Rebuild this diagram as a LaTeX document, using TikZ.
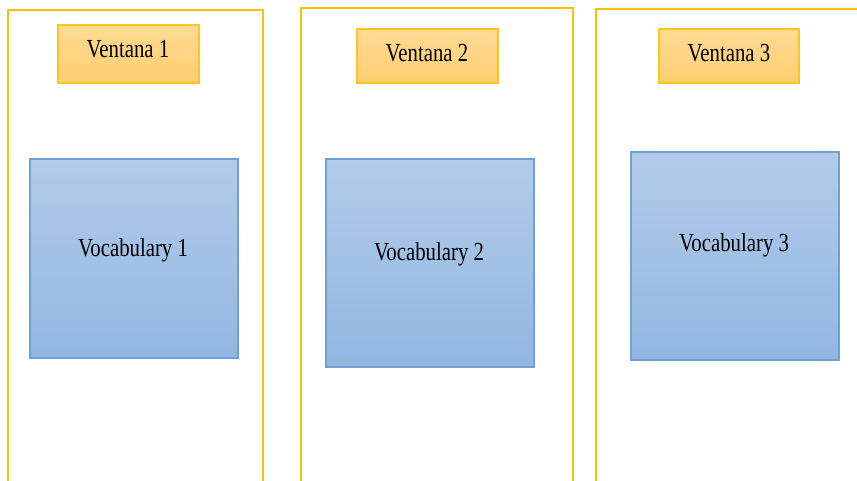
\documentclass[tikz,border=0pt]{standalone}
\usepackage{graphicx}
\usepackage{fontspec}
\setmainfont{Liberation Serif}
\usetikzlibrary{calc}

\definecolor{framegold}{RGB}{255,192,0}
\definecolor{ventop}{RGB}{255,218,148}
\definecolor{venbot}{RGB}{255,206,112}
\definecolor{venline}{RGB}{255,196,30}
\definecolor{voctop}{RGB}{178,203,233}
\definecolor{vocbot}{RGB}{145,183,226}
\definecolor{vocline}{RGB}{112,160,215}

\newcommand{\narrowtxt}[1]{\scalebox{0.8}[1]{#1}}

\tikzset{
  frameline/.style={draw=framegold, line width=1.5pt},
  ventanabox/.style={draw=venline, line width=1.3pt, top color=ventop, bottom color=venbot, inner sep=0pt},
  vocabbox/.style={draw=vocline, line width=1pt, top color=voctop, bottom color=vocbot, inner sep=0pt},
  boxtext/.style={anchor=base, inner sep=0pt, font=\fontsize{19.5}{22}\selectfont}
}

\begin{document}
\begin{tikzpicture}[x=0.75pt,y=0.75pt,yscale=-1,xscale=1]
\useasboundingbox (0,0) rectangle (857,481);

%Shape: Frame [open at the bottom]
\draw [frameline]  (8,481) -- (8,10) -- (263,10) -- (263,481) ;
%Shape: Frame [open at the bottom]
\draw [frameline]  (301,481) -- (301,8) -- (573,8) -- (573,481) ;
%Shape: Frame [right side off the page]
\draw [frameline]  (596,481) -- (596,9) -- (862,9) ;

%Shape: Rectangle
\node [ventanabox, minimum width=141*0.75pt, minimum height=58*0.75pt] (ven1box) at (128.5,54) {};
%Shape: Rectangle
\node [ventanabox, minimum width=141*0.75pt, minimum height=54*0.75pt] (ven2box) at (427.5,56) {};
%Shape: Rectangle
\node [ventanabox, minimum width=140*0.75pt, minimum height=54*0.75pt] (ven3box) at (729,56) {};

%Shape: Square
\node [vocabbox, minimum width=208*0.75pt, minimum height=199*0.75pt] (voc1box) at (134,258.5) {};
%Shape: Square
\node [vocabbox, minimum width=208*0.75pt, minimum height=208*0.75pt] (voc2box) at (430,263) {};
%Shape: Square
\node [vocabbox, minimum width=208*0.75pt, minimum height=208*0.75pt] (voc3box) at (735,256) {};

% Text Node
\node [boxtext] (ven1) at (128,58) {\narrowtxt{Ventana 1}};
% Text Node
\node [boxtext] (ven2) at (427,62) {\narrowtxt{Ventana 2}};
% Text Node
\node [boxtext] (ven3) at (729,62) {\narrowtxt{Ventana 3}};
% Text Node
\node [boxtext] (voc1) at (133,257) {\narrowtxt{Vocabulary 1}};
% Text Node
\node [boxtext] (voc2) at (429,261) {\narrowtxt{Vocabulary 2}};
% Text Node
\node [boxtext] (voc3) at (734,252) {\narrowtxt{Vocabulary 3}};

\end{tikzpicture}
\end{document}
